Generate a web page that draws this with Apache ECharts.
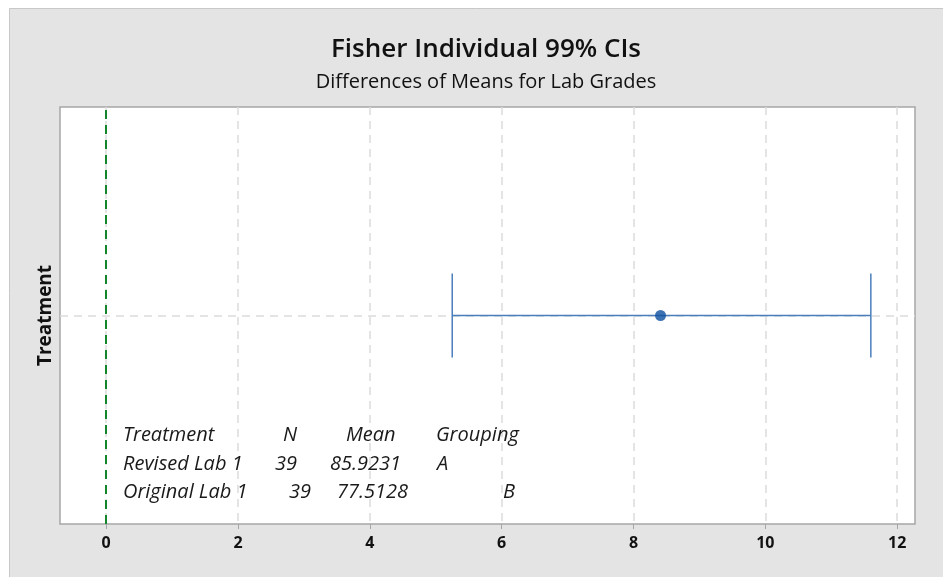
<!DOCTYPE html>
<html>
<head>
<meta charset="utf-8">
<script src="https://cdn.jsdelivr.net/npm/echarts@6/dist/echarts.min.js"></script>
<style>
  html, body { margin: 0; padding: 0; background: #ffffff; }
  #main { width: 943px; height: 577px; }
</style>
</head>
<body>
<div id="main"></div>
<script>
'use strict';

// Fisher individual CI data
const comparisons = ['Revised Lab 1 - Original Lab 1'];
const lowerCI = [5.25];
const meanDiff = [8.41];
const upperCI = [11.6];
const zeroLine = 0;

// table text
const tableHeader = ['Treatment', 'N', 'Mean', 'Grouping'];
const treatments = ['Revised Lab 1', 'Original Lab 1'];
const counts = ['39', '39'];
const means = ['85.9231', '77.5128'];
const groups = ['A', 'B'];

(function () {
  const chartEl = document.querySelector('#main');
  const chart = echarts.init(chartEl, null, { renderer: 'canvas' });

  const font = '"Open Sans", "Noto Sans", sans-serif';
  const lineColor = '#4a7ebb';
  const textStyleTable = { fontFamily: font, fontStyle: 'italic', fontSize: 20, fill: '#1a1a1a' };

  // table columns (x positions of each cell)
  const rowY = [425, 454, 482];
  const colX = [
    [123, 283, 346, 436],
    [123, 275, 330, 437],
    [123, 289, 337, 503]
  ];
  const tableRows = [tableHeader];
  treatments.forEach(function (t, i) {
    tableRows.push([t, counts[i], means[i], groups[i]]);
  });
  const tableGraphics = [];
  tableRows.forEach(function (row, r) {
    row.forEach(function (cell, c) {
      tableGraphics.push({
        type: 'text',
        left: colX[r][c],
        top: rowY[r],
        z: 10,
        style: Object.assign({ text: cell }, textStyleTable)
      });
    });
  });

  const ciData = comparisons.map(function (c, i) {
    return [c, lowerCI[i], upperCI[i]];
  });

  const option = {
    backgroundColor: '#ffffff',
    animation: false,
    graphic: [
      {
        type: 'rect',
        left: 9,
        top: 8,
        z: -10,
        shape: { width: 940, height: 575 },
        style: { fill: '#e4e4e4', stroke: '#c8c8c8', lineWidth: 1 }
      }
    ].concat(tableGraphics),
    title: {
      text: 'Fisher Individual 99% CIs',
      subtext: 'Differences of Means for Lab Grades',
      left: 481,
      textAlign: 'center',
      top: 32,
      itemGap: 9,
      textStyle: { fontFamily: font, fontSize: 26, fontWeight: 600, color: '#111' },
      subtextStyle: { fontFamily: font, fontSize: 20, fontWeight: 'normal', color: '#111' }
    },
    grid: {
      left: 60,
      right: 28,
      top: 107,
      bottom: 53,
      show: true,
      backgroundColor: '#ffffff',
      borderColor: '#a6a6a6',
      borderWidth: 1.5
    },
    xAxis: {
      type: 'value',
      min: -0.7,
      max: 12.27,
      minInterval: 2,
      maxInterval: 2,
      axisLine: { show: false },
      axisTick: { show: true, length: 5, lineStyle: { color: '#a6a6a6' } },
      axisLabel: {
        showMinLabel: false,
        showMaxLabel: false,
        margin: 11,
        fontFamily: font,
        fontSize: 16,
        fontWeight: 'bold',
        color: '#111',
        formatter: function (v) {
          return Number.isInteger(v) ? String(v) : '';
        }
      },
      splitLine: {
        show: true,
        showMinLine: false,
        showMaxLine: false,
        lineStyle: { color: '#dcdcdc', type: [8, 6], width: 1.5 }
      }
    },
    yAxis: {
      type: 'category',
      data: comparisons,
      name: 'Treatment',
      nameLocation: 'middle',
      nameGap: 5,
      nameTextStyle: { fontFamily: font, fontSize: 19, fontWeight: 'bold', color: '#111' },
      axisLine: { show: false },
      axisTick: { show: false },
      axisLabel: { show: false },
      splitLine: { show: false }
    },
    series: [
      {
        name: 'CI',
        type: 'custom',
        dimensions: [{ name: 'cat', type: 'ordinal' }, { name: 'lo', type: 'float' }, { name: 'hi', type: 'float' }],
        encode: { y: 0, x: [1, 2] },
        renderItem: function (params, api) {
          const lo = api.coord([api.value(1), api.value(0)]);
          const hi = api.coord([api.value(2), api.value(0)]);
          const cap = 42;
          const style = { stroke: lineColor, lineWidth: 1.5 };
          return {
            type: 'group',
            children: [
              { type: 'line', shape: { x1: lo[0], y1: lo[1], x2: hi[0], y2: hi[1] }, style: style },
              { type: 'line', shape: { x1: lo[0], y1: lo[1] - cap, x2: lo[0], y2: lo[1] + cap }, style: style },
              { type: 'line', shape: { x1: hi[0], y1: hi[1] - cap, x2: hi[0], y2: hi[1] + cap }, style: style }
            ]
          };
        },
        data: ciData,
        z: 5
      },
      {
        name: 'Mean',
        type: 'scatter',
        symbol: 'circle',
        symbolSize: 11,
        itemStyle: { color: '#0c4f9f' },
        z: 6,
        data: meanDiff.map(function (m, i) { return [m, comparisons[i]]; }),
        markLine: {
          silent: true,
          symbol: 'none',
          label: { show: false },
          z: 2,
          data: [
            { yAxis: comparisons[0], lineStyle: { color: '#dcdcdc', type: [8, 6], width: 1.5 } },
            { xAxis: zeroLine, lineStyle: { color: '#13862b', type: [9, 6], width: 2 } }
          ]
        }
      }
    ]
  };

  chart.setOption(option);
  window.addEventListener('resize', chart.resize);
})();
</script>
</body>
</html>
